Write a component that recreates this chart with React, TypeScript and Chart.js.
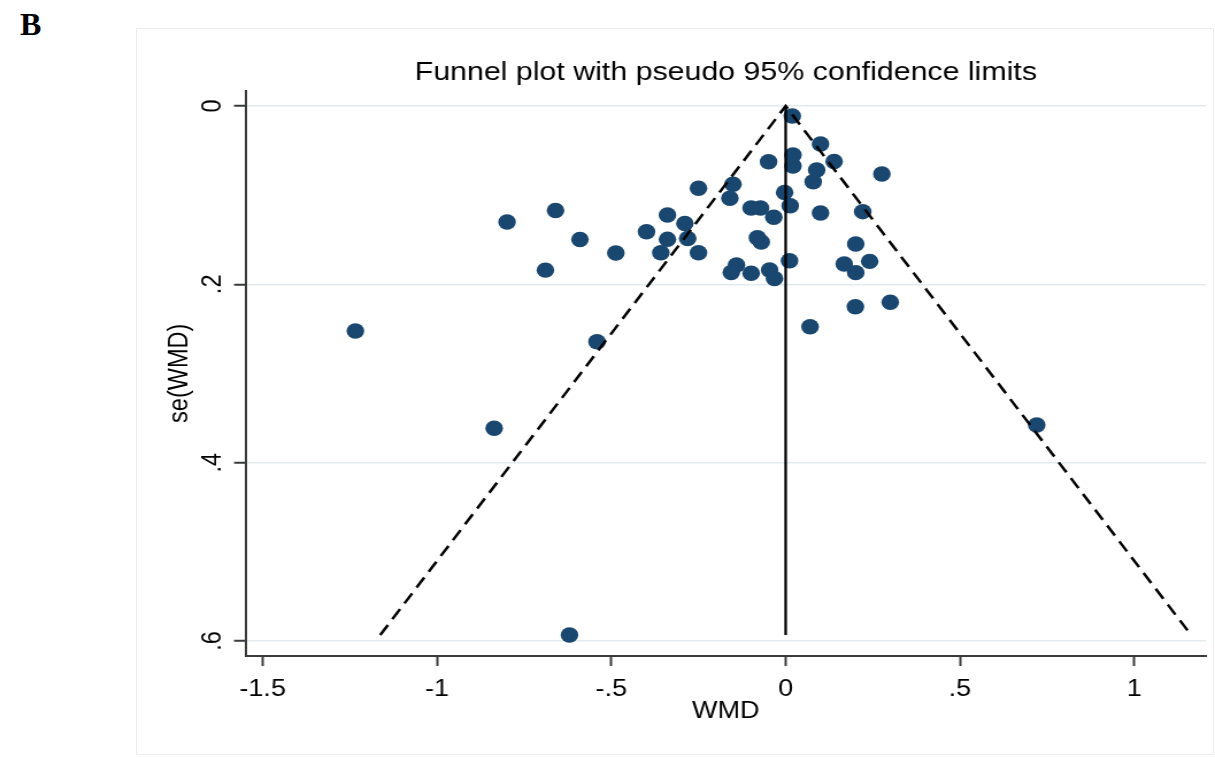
import React, { useEffect, useRef } from "react";
import { Chart, registerables } from "chart.js";

Chart.register(...registerables);

// Study-level effect sizes (weighted mean difference) and their standard errors
const wmd = [
  0.019, 0.100, -0.049, 0.021, 0.021, 0.139, 0.089, 0.079, 0.276, -0.250,
  -0.151, -0.160, -0.003, 0.013, -0.099, -0.072, -0.034, 0.100, 0.221, -0.799,
  -0.660, -0.339, -0.289, -0.399, -0.590, -0.339, -0.281, -0.081, -0.070, 0.201,
  -0.487, -0.358, -0.250, -0.689, -0.141, -0.156, -0.099, -0.046, -0.032, 0.011,
  0.168, 0.201, 0.241, 0.300, 0.200, 0.070, -1.234, -0.541, -0.836, 0.720,
  -0.620,
];
const seWmd = [
  0.0112, 0.0426, 0.0625, 0.0550, 0.0673, 0.0622, 0.0718, 0.0849, 0.0763, 0.0923,
  0.0878, 0.1035, 0.0970, 0.1119, 0.1144, 0.1144, 0.1248, 0.1200, 0.1185, 0.1301,
  0.1172, 0.1222, 0.1318, 0.1410, 0.1497, 0.1495, 0.1486, 0.1477, 0.1525, 0.1548,
  0.1649, 0.1645, 0.1645, 0.1841, 0.1783, 0.1867, 0.1876, 0.1839, 0.1935, 0.1735,
  0.1772, 0.1869, 0.1742, 0.2201, 0.2251, 0.2475, 0.2523, 0.2643, 0.3614, 0.3577,
  0.5932,
];

const xTickValues = [-1.5, -1, -0.5, 0, 0.5, 1];
const xTickLabels = ["-1.5", "-1", "-.5", "0", ".5", "1"];
const yTickValues = [0, 0.2, 0.4, 0.6];
const yTickLabels = ["0", ".2", ".4", ".6"];

const PAGE_W = 1215;
const PAGE_H = 757;
const CHART_W = 1057;
const STRETCH = PAGE_W / CHART_W;

const FONT = "'Liberation Sans', Arial, Helvetica, sans-serif";
const AXIS_COLOR = "#3a3a3a";
const GRID_COLOR = "#e3ebee";
const MARKER_COLOR = "#1a476f";

export default function App() {
  const canvasRef = useRef<HTMLCanvasElement | null>(null);

  useEffect(() => {
    if (!canvasRef.current) return;

    // pseudo 95% limits drawn out to the largest standard error
    const seMax = Math.max(...seWmd);
    const limit = 1.96 * seMax;

    const chart = new Chart(canvasRef.current, {
      type: "scatter",
      data: {
        datasets: [
          {
            data: [
              { x: 0, y: 0 },
              { x: 0, y: seMax },
            ],
            showLine: true,
            borderColor: "#000",
            borderWidth: 2.3,
            pointRadius: 0,
          },
          {
            data: [
              { x: -limit, y: seMax },
              { x: 0, y: 0 },
              { x: limit, y: seMax },
            ],
            showLine: true,
            borderColor: "#000",
            borderWidth: 2.5,
            borderDash: [12, 7],
            pointRadius: 0,
          },
          {
            data: wmd.map((x, i) => ({ x, y: seWmd[i] })),
            backgroundColor: MARKER_COLOR,
            borderWidth: 0,
            pointRadius: 7.7,
          },
        ],
      },
      options: {
        animation: false,
        responsive: false,
        layout: { padding: { left: 0, right: 4.4, top: 0, bottom: 0 } },
        plugins: {
          legend: { display: false },
          tooltip: { enabled: false },
          title: {
            display: true,
            text: "Funnel plot with pseudo 95% confidence limits",
            fullSize: false,
            color: "#000",
            font: { family: FONT, size: 26.4, weight: "normal", lineHeight: 1.2 },
            padding: { top: 56.5, bottom: 2.5 },
          },
        },
        scales: {
          x: {
            type: "linear",
            position: "bottom",
            min: -1.549,
            max: 1.206,
            afterBuildTicks: (s: any) => {
              s.ticks = xTickValues.map((value) => ({ value }));
            },
            afterFit: (s: any) => {
              s.height = 101;
            },
            ticks: {
              autoSkip: false,
              minRotation: 0,
              maxRotation: 0,
              padding: 9,
              color: "#000",
              font: { family: FONT, size: 23.5 },
              callback: (_v: any, i: number) => xTickLabels[i],
            },
            grid: {
              drawOnChartArea: false,
              drawTicks: true,
              tickLength: 10,
              tickColor: AXIS_COLOR,
              tickWidth: 2,
            },
            border: { display: true, color: AXIS_COLOR, width: 2 },
            title: {
              display: true,
              text: "WMD",
              color: "#000",
              font: { family: FONT, size: 23.5, lineHeight: 1.2 },
              padding: { top: 0, bottom: 30.9 },
            },
          },
          y: {
            type: "linear",
            position: "left",
            reverse: true,
            min: -0.0172,
            max: 0.6168,
            afterBuildTicks: (s: any) => {
              s.ticks = yTickValues.map((value) => ({ value }));
            },
            afterFit: (s: any) => {
              s.width = 213.6;
            },
            ticks: {
              autoSkip: false,
              minRotation: 90,
              maxRotation: 90,
              crossAlign: "center",
              padding: 8.5,
              color: "#000",
              font: { family: FONT, size: 23.5 },
              callback: (_v: any, i: number) => yTickLabels[i],
            },
            grid: {
              color: GRID_COLOR,
              lineWidth: 1.5,
              drawTicks: true,
              tickLength: 10,
              tickColor: AXIS_COLOR,
              tickWidth: 2,
            },
            border: { display: true, color: AXIS_COLOR, width: 2 },
            title: {
              display: true,
              text: "se(WMD)",
              color: "#000",
              font: { family: FONT, size: 23.5, lineHeight: 1.2 },
              padding: { top: 142.9, bottom: 0 },
            },
          },
        },
      },
    });

    return () => chart.destroy();
  }, []);

  return (
    <div
      style={{
        position: "absolute",
        left: 0,
        top: 0,
        width: PAGE_W,
        height: PAGE_H,
        overflow: "hidden",
        background: "#fff",
      }}
    >
      <div
        style={{
          position: "absolute",
          left: 136,
          top: 28,
          width: 1078,
          height: 727,
          boxSizing: "border-box",
          border: "1px solid #ececec",
        }}
      />
      <div
        style={{
          position: "absolute",
          left: 20,
          top: 8.4,
          fontFamily: "'Liberation Serif', 'Times New Roman', serif",
          fontWeight: "bold",
          fontSize: 32,
          lineHeight: 1,
          color: "#000",
        }}
      >
        B
      </div>
      <div
        style={{
          position: "absolute",
          left: 0,
          top: 0,
          width: CHART_W,
          height: PAGE_H,
          transform: `scaleX(${STRETCH})`,
          transformOrigin: "0 0",
        }}
      >
        <canvas ref={canvasRef} width={CHART_W} height={PAGE_H} />
      </div>
    </div>
  );
}
